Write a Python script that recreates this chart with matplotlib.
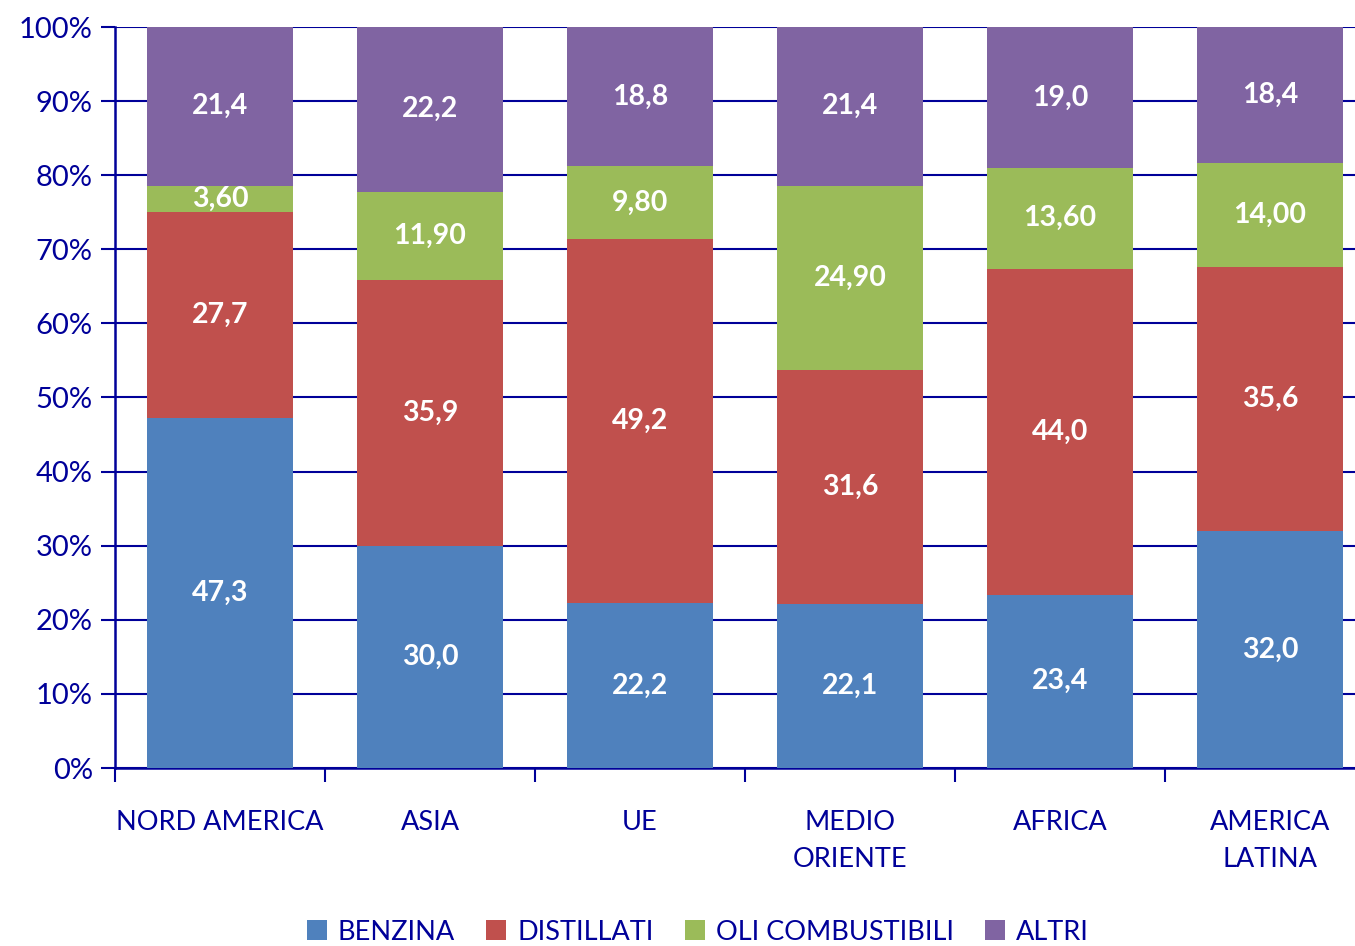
import matplotlib
matplotlib.use('Agg')
import matplotlib.pyplot as plt
import numpy as np
from matplotlib.ticker import FixedLocator, NullFormatter

plt.rcParams['font.family'] = ['Lato', 'DejaVu Sans']

regioni = ['NORD AMERICA', 'ASIA', 'UE', 'MEDIO\nORIENTE', 'AFRICA', 'AMERICA\nLATINA']
benzina = [47.3, 30.0, 22.2, 22.1, 23.4, 32.0]
distillati = [27.7, 35.9, 49.2, 31.6, 44.0, 35.6]
oli = [3.60, 11.90, 9.80, 24.90, 13.60, 14.00]
altri = [21.4, 22.2, 18.8, 21.4, 19.0, 18.4]

lab_benzina = ['47,3', '30,0', '22,2', '22,1', '23,4', '32,0']
lab_distillati = ['27,7', '35,9', '49,2', '31,6', '44,0', '35,6']
lab_oli = ['3,60', '11,90', '9,80', '24,90', '13,60', '14,00']
lab_altri = ['21,4', '22,2', '18,8', '21,4', '19,0', '18,4']

navy = '#000099'
series = [
    ('BENZINA', benzina, lab_benzina, '#4F81BD'),
    ('DISTILLATI', distillati, lab_distillati, '#C0504D'),
    ('OLI COMBUSTIBILI', oli, lab_oli, '#9BBB59'),
    ('ALTRI', altri, lab_altri, '#8064A2'),
]

fig = plt.figure(figsize=(13.55, 9.46), dpi=100)
W, H = 1355, 946
ax = fig.add_axes([115 / W, 1 - 768 / H, 1260 / W, (768 - 27) / H])

x = np.arange(len(regioni))
bottom = np.zeros(len(regioni))
for name, vals, labs, col in series:
    vals = np.array(vals)
    bars = ax.bar(x, vals, 0.695, bottom=bottom, color=col, label=name, zorder=3)
    for xi, b, v, t in zip(x, bottom, vals, labs):
        ax.text(xi, b + v / 2, t, ha='center', va='center', color='white',
                fontsize=20.5, fontweight='bold', zorder=4)
    bottom += vals

ax.set_xlim(-0.5, 5.5)
ax.set_ylim(0, 100)
ax.set_yticks(np.arange(0, 101, 10))
ax.set_yticklabels([f'{v}%' for v in range(0, 101, 10)])
ax.yaxis.grid(True, color=navy, linewidth=1.5, zorder=0)
ax.xaxis.set_major_locator(FixedLocator(np.arange(-0.5, 5.5, 1)))
ax.xaxis.set_major_formatter(NullFormatter())
ax.xaxis.set_minor_locator(FixedLocator(x))
ax.set_xticklabels(regioni, minor=True, linespacing=1.6)
ax.tick_params(axis='x', which='minor', length=0, pad=30, labelsize=19.5, labelcolor=navy)
ax.tick_params(axis='x', which='major', length=10, width=1.5, color=navy, direction='out')
ax.tick_params(axis='y', length=10, width=1.5, color=navy, labelsize=21, labelcolor=navy, pad=6)

for s in ['top', 'right']:
    ax.spines[s].set_visible(False)
for s in ['left', 'bottom']:
    ax.spines[s].set_color(navy)
    ax.spines[s].set_linewidth(1.8)

leg = fig.legend(loc='center', bbox_to_anchor=(0.515, 1 - 932 / H), ncol=4, frameon=False,
                 fontsize=19.5, handlelength=0.75, handleheight=0.75, columnspacing=1.15,
                 handletextpad=0.4)
for t in leg.get_texts():
    t.set_color(navy)

fig.savefig('out.png', dpi=100)
